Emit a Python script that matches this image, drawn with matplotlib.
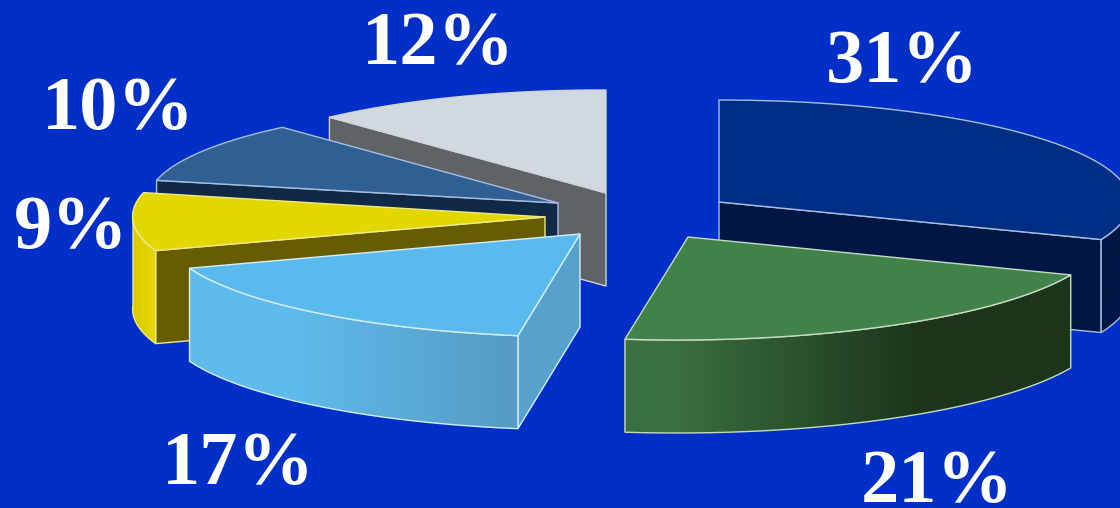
import numpy as np
import matplotlib
matplotlib.use("Agg")
import matplotlib.pyplot as plt
from matplotlib.patches import Polygon

# slice shares in percent, clockwise from twelve o'clock
shares = [31, 21, 17, 9, 10, 12]

# colours per slice
top_colors = ["#002E85", "#41824A", "#5ABAEE", "#E3D700", "#2F5F93", "#D2D8DF"]
cut_colors = ["#001746", "#1E3A1C", "#56A2CC", "#675C00", "#0F2947", "#5F6368"]
wall_left = ["#001746", "#3A7040", "#5FBBEC", "#D8CC00", "#0F2947", "#5F6368"]
wall_right = ["#001746", "#1C351B", "#559BC4", "#E6DA00", "#0F2947", "#5F6368"]
edge_colors = ["#A9BEDD", "#C6DCC0", "#D5EEFA", "#EFE98C", "#A9BEDD", "#D0D4D8"]

# where the wall shading starts and ends, as a fraction of the wall width
fade_start = [0, 0.1, 0.3, 0, 0, 0]
fade_end = [1, 0.66, 1, 1, 1, 1]

# layout of the exploded pie, in pixels
apex_x = [719, 688, 580, 545, 558, 606]
apex_y = [202, 237, 234, 217, 203, 193]
radius_x = [411, 416, 416, 412, 410, 404]
radius_y = [102, 103, 103, 104, 100, 103]
skew_x = [0, 11, 10, 17, 7, 0]
skew_y = [0, 0, 4, 5, 4, 1]
depth = 93

# painted back to front
draw_order = [0, 5, 4, 3, 2, 1]

# label centre and baseline
label_x = [902, 937, 238, 71, 118, 438]
label_y = [82, 502, 484, 248, 129, 64]

BACKGROUND = "#002FC8"
W, H = 1120, 508


def rim_points(i, a0, a1, n=120):
    # points of the elliptical rim between two clockwise angles (radians)
    t = np.linspace(a0, a1, n)
    x = apex_x[i] + radius_x[i] * np.sin(t) + skew_x[i] * np.cos(t)
    y = apex_y[i] - radius_y[i] * np.cos(t) + skew_y[i] * np.sin(t)
    return np.column_stack((x, y))


def draw_poly(ax, pts, color, edge, z):
    ax.add_patch(Polygon(pts, closed=True, facecolor=color, edgecolor=edge,
                         linewidth=1.0, joinstyle="round", zorder=z))


def draw_gradient_wall(ax, pts, i, z):
    # outer wall, shaded from left to right and clipped to its outline
    c0 = np.array(matplotlib.colors.to_rgb(wall_left[i]))
    c1 = np.array(matplotlib.colors.to_rgb(wall_right[i]))
    pos = np.linspace(0, 1, 256)
    ramp = np.clip((pos - fade_start[i]) / (fade_end[i] - fade_start[i]), 0, 1)[None, :, None]
    img = c0[None, None, :] * (1 - ramp) + c1[None, None, :] * ramp
    x0, x1 = pts[:, 0].min(), pts[:, 0].max()
    y0, y1 = pts[:, 1].min(), pts[:, 1].max()
    patch = Polygon(pts, closed=True, facecolor="none", edgecolor=edge_colors[i],
                    linewidth=1.0, zorder=z + 0.1)
    ax.add_patch(patch)
    im = ax.imshow(img, extent=(x0, x1, y1, y0), aspect="auto", zorder=z,
                   interpolation="bilinear")
    im.set_clip_path(patch)


def draw_slice(ax, i, a0, a1, z):
    apex = np.array([apex_x[i], apex_y[i]], dtype=float)
    drop = np.array([0, depth])

    # flat cut walls facing the viewer
    if np.sin(a0) < -1e-6:
        corner = rim_points(i, a0, a0, 1)[0]
        draw_poly(ax, [apex, corner, corner + drop, apex + drop],
                  cut_colors[i], edge_colors[i], z)
    if np.sin(a1) > 1e-6:
        corner = rim_points(i, a1, a1, 1)[0]
        draw_poly(ax, [apex, corner, corner + drop, apex + drop],
                  cut_colors[i], edge_colors[i], z)

    # outer wall, only the part of the rim on the near side
    w0 = max(a0, np.pi / 2)
    w1 = min(a1, 3 * np.pi / 2)
    if w1 > w0:
        rim = rim_points(i, w0, w1)
        wall = np.vstack((rim, rim[::-1] + drop))
        draw_gradient_wall(ax, wall, i, z + 0.2)

    # top face
    top = np.vstack((apex, rim_points(i, a0, a1)))
    draw_poly(ax, top, top_colors[i], edge_colors[i], z + 0.4)


def main():
    fig = plt.figure(figsize=(W / 100, H / 100), dpi=100, facecolor=BACKGROUND)
    ax = fig.add_axes([0, 0, 1, 1])
    ax.set_facecolor(BACKGROUND)

    bounds = np.radians(np.concatenate(([0], np.cumsum(shares))) * 3.6)
    for order, i in enumerate(draw_order):
        draw_slice(ax, i, bounds[i], bounds[i + 1], order + 1)

    for i, share in enumerate(shares):
        ax.text(label_x[i], label_y[i], f"{share}%", color="white", ha="center",
                va="baseline", family="Liberation Serif", weight="bold",
                fontsize=55, zorder=20)

    ax.set_xlim(0, W)
    ax.set_ylim(H, 0)
    ax.axis("off")
    fig.savefig("out.png", dpi=100, facecolor=BACKGROUND)


if __name__ == '__main__':
    main()
